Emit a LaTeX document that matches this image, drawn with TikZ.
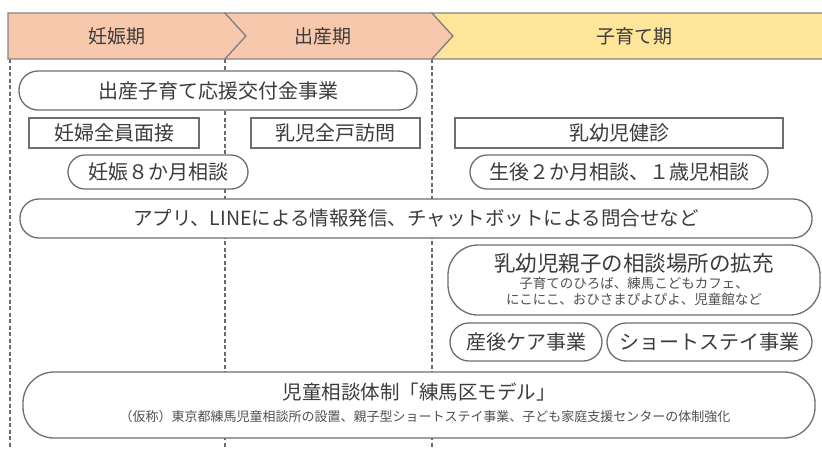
\documentclass[tikz,border=0pt]{standalone}
\usepackage{fontspec}
\setmainfont{Noto Sans CJK JP}
\definecolor{salmonc}{HTML}{F8C8AC}
\definecolor{yellowc}{HTML}{FDE69A}
\definecolor{hdrline}{HTML}{858585}
\definecolor{dashc}{HTML}{6A6A6A}
\definecolor{boxline}{HTML}{6E6E6E}
\definecolor{txt}{HTML}{3C3C3C}
\definecolor{subtxt}{HTML}{505050}
\tikzset{
  dline/.style={draw=dashc, line width=1.1pt, dash pattern=on 4pt off 2.5pt},
  hdr/.style={draw=hdrline, line width=1.3pt, line join=miter},
  htext/.style={text=txt, font=\fontsize{19}{22}\selectfont, inner sep=0pt},
  box/.style={draw=boxline, line width=1.3pt, fill=white, inner sep=0pt, text=txt,
    font=\fontsize{20}{24}\selectfont},
  pill/.style={box, rounded corners=#1},
  pill/.default=18pt,
  subline/.style={text=subtxt, inner sep=0pt, font=\fontsize{13.5}{16}\selectfont},
  mainline/.style={text=txt, inner sep=0pt, font=\fontsize{20}{24}\selectfont},
}
\begin{document}
\begin{tikzpicture}[x=1pt,y=-1pt]
\useasboundingbox (0,0) rectangle (822,448);
\clip (0,0) rectangle (822,448);
\fill[white] (0,0) rectangle (822,448);
% dashed period separators
\draw[dline] (10,59) -- (10,448);
\draw[dline] (225,59) -- (225,448);
\draw[dline] (432,59) -- (432,448);
% header chevrons
\draw[hdr, fill=salmonc] (8,13) -- (225,13) -- (246,36) -- (225,59) -- (8,59) -- cycle;
\draw[hdr, fill=salmonc] (225,13) -- (432,13) -- (453,36) -- (432,59) -- (225,59) -- (246,36) -- cycle;
\draw[hdr, fill=yellowc] (432,13) -- (830,13) -- (830,59) -- (432,59) -- (453,36) -- cycle;
\node[htext] (h1) at (117,36) {妊娠期};
\node[htext] (h2) at (323,36) {出産期};
\node[htext] (h3) at (634,36) {子育て期};
% rows
\node[pill=19pt, minimum width=398pt, minimum height=39pt] (kofu) at (218,90.5) {出産子育て応援交付金事業};
\node[box, minimum width=170pt, minimum height=30pt] (mensetsu) at (114,133) {妊婦全員面接};
\node[box, minimum width=169pt, minimum height=30pt] (homon) at (335.5,133) {乳児全戸訪問};
\node[box, minimum width=328pt, minimum height=30pt] (kenshin) at (619,133) {乳幼児健診};
\node[pill=17pt, minimum width=180pt, minimum height=34pt] (hachi) at (158,172) {妊娠８か月相談};
\node[pill=17pt, minimum width=298pt, minimum height=34pt] (seigo) at (619,172) {生後２か月相談、１歳児相談};
\node[pill=19pt, minimum width=792pt, minimum height=39pt, font=\fontsize{19.5}{24}\selectfont] (app) at (416,218.5) {アプリ、LINEによる情報発信、チャットボットによる問合せなど};
\node[pill=30pt, minimum width=372pt, minimum height=70pt] (oyako) at (634,280) {};
\node[mainline, font=\fontsize{21.5}{24}\selectfont] (oyakoT) at (634,263) {乳幼児親子の相談場所の拡充};
\node[subline] (oyakoS1) at (634,283) {子育てのひろば、練馬こどもカフェ、};
\node[subline] (oyakoS2) at (634,299) {にこにこ、おひさまぴよぴよ、児童館など};
\node[pill=19pt, minimum width=152pt, minimum height=38pt] (sango) at (526,342) {産後ケア事業};
\node[pill=19pt, minimum width=205pt, minimum height=38pt] (short) at (709.5,342) {ショートステイ事業};
\node[pill=31pt, minimum width=792pt, minimum height=66pt] (jido) at (419,405) {};
\node[mainline, font=\fontsize{19.5}{24}\selectfont] (jidoT) at (419,392) {児童相談体制「練馬区モデル」};
\node[subline, font=\fontsize{13}{16}\selectfont] (jidoS) at (425,417) {（仮称）東京都練馬児童相談所の設置、親子型ショートステイ事業、子ども家庭支援センターの体制強化};
\end{tikzpicture}
\end{document}
